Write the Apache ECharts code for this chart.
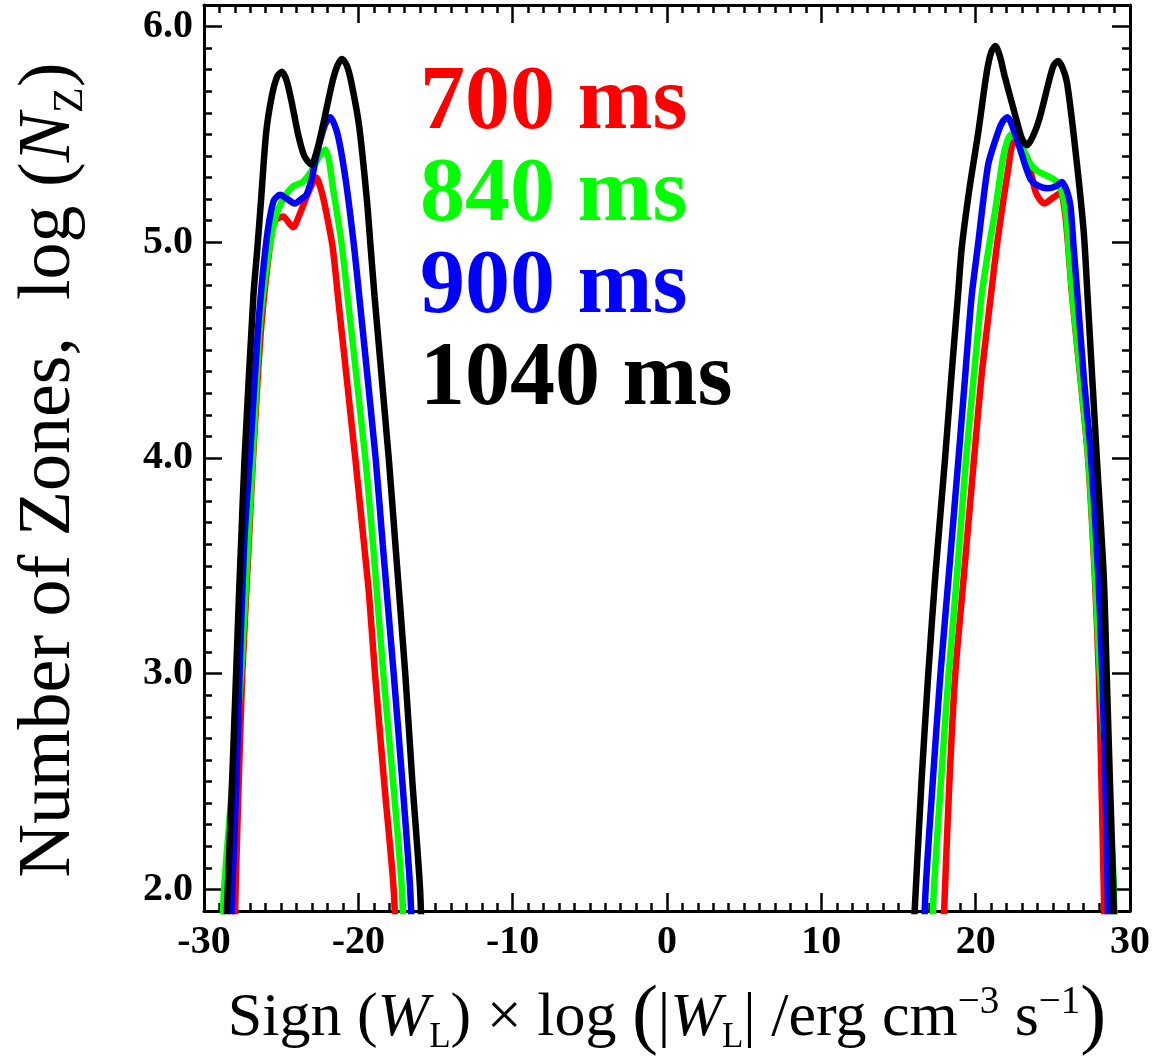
<!DOCTYPE html>
<html>
<head>
<meta charset="utf-8">
<script src="https://cdn.jsdelivr.net/npm/echarts@6/dist/echarts.min.js"></script>
<style>
  html, body { margin: 0; padding: 0; background: #fff; }
  #chart { width: 1164px; height: 1063px; }
</style>
</head>
<body>
<div id="chart"></div>
<script>
// legend names (snapshot times)
const seriesNames = ['700 ms', '840 ms', '900 ms', '1040 ms'];

// axis ticks
const xTicks = [-30, -20, -10, 0, 10, 20, 30];
const yTicks = [2.0, 3.0, 4.0, 5.0, 6.0];

// [sign(W)*log|W|, log Nz]; negative hump / positive hump
const red700Neg = [[-28.1, 1.5], [-27.95, 2.0], [-27.75, 2.5], [-27.52, 3.0], [-27.1, 3.6], [-26.82, 4.0], [-26.3, 4.6], [-25.7, 5.0], [-25.4, 5.1], [-24.86, 5.12], [-24.5, 5.09], [-24.22, 5.07], [-23.8, 5.13], [-23.3, 5.22], [-22.72, 5.3], [-22.4, 5.24], [-22.08, 5.14], [-21.66, 4.975], [-21.25, 4.7], [-20.2, 4.0], [-19.63, 3.6], [-19.31, 3.37], [-18.92, 3.0], [-18.28, 2.46], [-17.71, 2.0], [-17.45, 1.5]];
const red700Pos = [[17.75, 1.5], [18.01, 2.0], [18.3, 2.5], [18.68, 3.0], [19.23, 3.45], [19.9, 4.0], [20.38, 4.38], [20.98, 4.75], [21.35, 4.97], [21.66, 5.13], [22.09, 5.33], [22.48, 5.47], [22.94, 5.44], [23.4, 5.38], [23.9, 5.23], [24.44, 5.18], [25.08, 5.21], [25.5, 5.23], [25.8, 5.13], [26.0, 4.975], [26.25, 4.75], [26.77, 4.38], [27.28, 4.0], [27.72, 3.45], [27.98, 3.0], [28.15, 2.5], [28.3, 2.0], [28.4, 1.5]];

const green840Neg = [[-29.0, 1.5], [-28.7, 2.0], [-28.15, 2.5], [-27.6, 3.0], [-27.15, 3.6], [-26.85, 4.0], [-26.4, 4.6], [-25.92, 4.9], [-25.39, 5.11], [-24.86, 5.2], [-24.22, 5.26], [-23.6, 5.28], [-23.04, 5.33], [-22.6, 5.39], [-22.14, 5.43], [-21.9, 5.38], [-21.66, 5.26], [-21.3, 5.1], [-21.05, 4.975], [-20.7, 4.75], [-19.55, 4.0], [-19.05, 3.6], [-18.38, 3.0], [-17.75, 2.5], [-17.18, 2.0], [-16.95, 1.5]];
const green840Pos = [[17.0, 1.5], [17.29, 2.0], [17.75, 2.5], [18.25, 3.0], [18.78, 3.45], [19.38, 4.0], [19.88, 4.38], [20.38, 4.75], [20.85, 4.975], [21.25, 5.14], [21.77, 5.39], [22.05, 5.47], [22.3, 5.5], [22.94, 5.45], [23.48, 5.37], [24.0, 5.33], [24.87, 5.3], [25.4, 5.27], [25.7, 5.2], [25.9, 5.1], [26.02, 4.975], [26.27, 4.75], [26.79, 4.38], [27.3, 4.0], [27.75, 3.45], [28.05, 3.0], [28.5, 2.5], [28.9, 2.1], [29.1, 1.5]];

const blue900Neg = [[-28.4, 1.5], [-28.16, 2.0], [-27.9, 2.5], [-27.7, 3.0], [-27.4, 3.6], [-27.03, 4.0], [-26.5, 4.6], [-25.97, 5.0], [-25.5, 5.19], [-25.07, 5.22], [-24.6, 5.2], [-24.11, 5.18], [-23.7, 5.2], [-23.36, 5.22], [-23.0, 5.3], [-22.72, 5.4], [-22.19, 5.54], [-21.82, 5.58], [-21.34, 5.5], [-20.8, 5.28], [-20.27, 4.975], [-19.94, 4.75], [-18.88, 4.0], [-18.42, 3.6], [-17.71, 3.0], [-17.15, 2.5], [-16.64, 2.0], [-16.4, 1.5]];
const blue900Pos = [[16.5, 1.5], [16.76, 2.0], [17.22, 2.5], [17.72, 3.0], [18.25, 3.45], [18.89, 4.0], [19.32, 4.38], [19.74, 4.75], [20.13, 4.975], [20.81, 5.36], [21.45, 5.51], [21.75, 5.56], [22.05, 5.58], [22.66, 5.48], [23.2, 5.36], [23.58, 5.29], [24.1, 5.26], [24.65, 5.25], [25.2, 5.26], [25.6, 5.28], [25.9, 5.24], [26.14, 5.17], [26.35, 4.975], [26.6, 4.75], [27.0, 4.38], [27.48, 4.0], [27.95, 3.45], [28.2, 3.0], [28.4, 2.5], [28.55, 2.0], [28.65, 1.5]];

const black1040Neg = [[-28.75, 1.5], [-28.46, 2.0], [-28.18, 2.5], [-27.92, 3.0], [-27.73, 3.37], [-27.6, 3.6], [-27.37, 4.0], [-26.8, 4.75], [-26.54, 4.975], [-26.3, 5.2], [-25.97, 5.51], [-25.6, 5.68], [-25.25, 5.77], [-24.96, 5.79], [-24.65, 5.75], [-24.32, 5.65], [-23.9, 5.5], [-23.5, 5.4], [-23.04, 5.36], [-22.7, 5.42], [-22.3, 5.54], [-21.66, 5.75], [-21.35, 5.82], [-21.06, 5.85], [-20.75, 5.82], [-20.48, 5.75], [-19.95, 5.54], [-19.45, 5.2], [-19.2, 4.975], [-18.95, 4.75], [-18.03, 4.0], [-17.6, 3.6], [-16.96, 3.0], [-16.5, 2.5], [-16.0, 2.0], [-15.8, 1.5]];
const black1040Pos = [[15.75, 1.5], [16.12, 2.0], [16.49, 2.5], [16.93, 3.0], [17.38, 3.45], [18.02, 4.0], [18.43, 4.38], [18.85, 4.75], [19.1, 4.975], [19.6, 5.25], [20.17, 5.51], [20.7, 5.78], [21.0, 5.88], [21.28, 5.91], [21.58, 5.86], [21.88, 5.77], [22.52, 5.6], [23.0, 5.48], [23.33, 5.45], [23.7, 5.49], [24.12, 5.57], [24.76, 5.75], [25.05, 5.82], [25.33, 5.84], [25.62, 5.81], [25.92, 5.74], [26.46, 5.43], [27.0, 5.05], [27.25, 4.75], [27.85, 4.0], [28.3, 3.45], [28.49, 3.0], [28.7, 2.5], [28.92, 2.0], [29.05, 1.5]];

const colors = ['#ff0000', '#00ff00', '#0000ff', '#000000'];
const humps = [
  [red700Neg, red700Pos],
  [green840Neg, green840Pos],
  [blue900Neg, blue900Pos],
  [black1040Neg, black1040Pos]
];

const chart = echarts.init(document.getElementById('chart'));

const black = '#000';
const serif = 'Liberation Serif';

const tickStyle = { color: black, width: 2.5 };
const frameLine = { show: true, onZero: false, lineStyle: { color: black, width: 3 } };
const noLine = { show: false, onZero: false };

// major x axes: ticks every 10
function xMajor(pos, withLabels) {
  return {
    type: 'value', position: pos, min: -30, max: 30, interval: 10,
    axisLine: frameLine,
    axisTick: { show: true, inside: true, length: 18, lineStyle: tickStyle },
    splitLine: { show: false },
    axisLabel: {
      show: withLabels, margin: 12, color: black,
      fontFamily: serif, fontWeight: 'bold', fontSize: 40
    },
    name: withLabels ? 'Sign{p| (}{it|W}{sub|L}{p|)} × log {big|(}{p||}{it|W}{sub|L}{p||} /erg cm{sup|−3} s{sup|−1}{big|)}' : '',
    nameLocation: 'middle', nameGap: 72,
    nameTextStyle: {
      fontFamily: serif, fontSize: 62, color: black, lineHeight: 72,
      rich: {
        p: { fontFamily: serif, fontSize: 62, color: black, lineHeight: 72 },
        it: { fontFamily: serif, fontStyle: 'italic', fontSize: 62, color: black, lineHeight: 72 },
        sub: { fontFamily: serif, fontSize: 35, color: black, lineHeight: 22, verticalAlign: 'bottom' },
        sup: { fontFamily: serif, fontSize: 39, color: black, lineHeight: 40, verticalAlign: 'top' },
        big: { fontFamily: serif, fontSize: 78, color: black, lineHeight: 72 }
      }
    }
  };
}

// minor x axes: ticks every 1
function xMinor(pos) {
  return {
    type: 'value', position: pos, min: -30, max: 30, interval: 1,
    axisLine: noLine,
    axisTick: { show: true, inside: true, length: 8, lineStyle: tickStyle },
    splitLine: { show: false },
    axisLabel: { show: false }
  };
}

function yMajor(pos, withLabels) {
  return {
    type: 'value', position: pos, min: 1.9, max: 6.1,
    axisLine: frameLine,
    axisTick: { show: true, inside: true, length: 18, customValues: yTicks, lineStyle: tickStyle },
    splitLine: { show: false },
    axisLabel: {
      show: withLabels, margin: 11, color: black,
      fontFamily: serif, fontWeight: 'bold', fontSize: 40,
      customValues: yTicks,
      formatter: v => Number(v).toFixed(1)
    },
    name: withLabels ? 'Number of Zones,  log {p|(}{it|N}{sub|Z}{p|)}' : '',
    nameLocation: 'middle', nameGap: 112, nameRotate: 90,
    nameTextStyle: {
      fontFamily: serif, fontSize: 74, color: black, lineHeight: 84,
      padding: [0, 24, 0, 0],
      rich: {
        p: { fontFamily: serif, fontSize: 74, color: black, lineHeight: 84 },
        it: { fontFamily: serif, fontStyle: 'italic', fontSize: 74, color: black, lineHeight: 84 },
        sub: { fontFamily: serif, fontSize: 42, color: black, lineHeight: 28, verticalAlign: 'bottom' }
      }
    }
  };
}

// minor y axes: ticks every 0.1 (min 1.9 is a multiple of 0.1)
function yMinor(pos) {
  return {
    type: 'value', position: pos, min: 1.9, max: 6.1, interval: 0.1,
    axisLine: noLine,
    axisTick: { show: true, inside: true, length: 8, lineStyle: tickStyle },
    splitLine: { show: false },
    axisLabel: { show: false }
  };
}

const series = seriesNames.map((name, i) => ({
  name: name,
  type: 'line',
  xAxisIndex: 0,
  yAxisIndex: 0,
  // null point breaks the line between the two humps
  data: humps[i][0].concat([[0, null]], humps[i][1]),
  showSymbol: false,
  symbol: 'none',
  smooth: 0.25,
  connectNulls: false,
  clip: true,
  lineStyle: { color: colors[i], width: 6.5 },
  itemStyle: { color: colors[i] },
  emphasis: { disabled: true },
  z: 2 + i
}));

const option = {
  animation: false,
  backgroundColor: '#fff',
  grid: { left: 193, right: 34, top: 5, bottom: 141, containLabel: false },
  legend: {
    orient: 'vertical', left: 415, top: 59, padding: 0, itemGap: 0,
    icon: 'none', itemWidth: 0, itemHeight: 0, selectedMode: false,
    textStyle: { fontFamily: serif, fontWeight: 'bold', fontSize: 90, lineHeight: 92 },
    data: seriesNames.map((n, i) => ({ name: n, textStyle: { color: colors[i] } }))
  },
  xAxis: [xMajor('bottom', true), xMajor('top', false), xMinor('bottom'), xMinor('top')],
  yAxis: [yMajor('left', true), yMinor('left'), yMajor('right', false), yMinor('right')],
  series: series
};

chart.setOption(option);
</script>
</body>
</html>
